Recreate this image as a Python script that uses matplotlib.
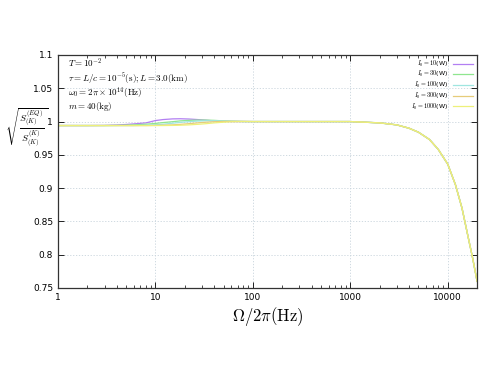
import matplotlib
matplotlib.use("Agg")
import matplotlib.pyplot as plt
from matplotlib.ticker import LogLocator, NullFormatter, FixedLocator

plt.rcParams['mathtext.fontset'] = 'cm'

# frequency grid (Hz): low part differs per power, high part is shared
f_low = [1, 2, 3, 4, 5, 6, 8, 10, 12, 15, 18, 22, 27, 33, 40, 50, 60, 80, 100]
f_high = [200, 500, 1000, 2000, 3000, 4000, 5000, 6500, 8000, 10000,
          12000, 14000, 16000, 18000, 20000]
r_high = [1.0, 1.0, 1.0, 0.998, 0.995, 0.99, 0.984, 0.973, 0.958, 0.936,
          0.905, 0.87, 0.83, 0.795, 0.76]

r_10W = [0.994, 0.994, 0.9942, 0.9948, 0.9956, 0.9965, 0.998, 1.0015, 1.003,
         1.004, 1.0042, 1.0038, 1.003, 1.002, 1.001, 1.0003, 1.0, 1.0, 1.0]
r_30W = [0.994, 0.994, 0.994, 0.9942, 0.9945, 0.995, 0.996, 0.9972, 0.9985,
         0.9998, 1.001, 1.0018, 1.0022, 1.0022, 1.0018, 1.001, 1.0005, 1.0, 1.0]
r_100W = [0.994, 0.994, 0.994, 0.994, 0.994, 0.994, 0.9945, 0.9952, 0.996,
          0.9975, 0.9988, 0.9998, 1.0007, 1.0012, 1.0013, 1.001, 1.0006, 1.0002, 1.0]
r_300W = [0.994, 0.994, 0.994, 0.994, 0.994, 0.994, 0.994, 0.9942, 0.9945,
          0.995, 0.9958, 0.9968, 0.998, 0.999, 0.9997, 1.0002, 1.0004, 1.0003, 1.0]
r_1000W = [0.994, 0.994, 0.994, 0.994, 0.994, 0.994, 0.994, 0.994, 0.994,
           0.9942, 0.9945, 0.995, 0.9958, 0.9968, 0.998, 0.999, 0.9996, 1.0, 1.0]

labels = [r'$I_0=10$(W)', r'$I_0=30$(W)', r'$I_0=100$(W)', r'$I_0=300$(W)', r'$I_0=1000$(W)']
colors = ['#b27ff2', '#8fe68f', '#9fe6e0', '#e6cc7a', '#eef07a']

fig = plt.figure(figsize=(4.98, 3.74), dpi=100)
ax = fig.add_axes([0.1165, 0.230, 0.8415, 0.623])

for r, lab, c in zip([r_10W, r_30W, r_100W, r_300W, r_1000W], labels, colors):
    ax.plot(f_low + f_high, r + r_high, color=c, lw=0.9, label=lab)

ax.set_xscale('log')
ax.set_xlim(1, 20000)
ax.set_ylim(0.75, 1.1)
ax.xaxis.set_major_locator(FixedLocator([1, 10, 100, 1000, 10000]))
ax.set_xticklabels(['1', '10', '100', '1000', '10000'])
ax.xaxis.set_minor_locator(LogLocator(base=10, subs=range(2, 10)))
ax.xaxis.set_minor_formatter(NullFormatter())
ax.set_yticks([0.75, 0.8, 0.85, 0.9, 0.95, 1.0, 1.05, 1.1])
ax.set_yticklabels(['0.75', '0.8', '0.85', '0.9', '0.95', '1', '1.05', '1.1'])
ax.tick_params(which='both', direction='in', top=True, right=True, labelsize=6.5)
ax.tick_params(which='major', length=4, width=0.6)
ax.tick_params(which='minor', length=2, width=0.5)
ax.grid(True, which='major', color='#c8d4dc', ls=(0, (1.5, 2)), lw=0.6)
for s in ax.spines.values():
    s.set_linewidth(0.9)
    s.set_color('#333333')

ax.set_xlabel(r'$\Omega/2\pi(\mathrm{Hz})$', fontsize=12, labelpad=2)
fig.text(0.01, 0.657, r'$\sqrt{\frac{S^{(EQ)}_{(K)}}{S^{(K)}_{(K)}}}$', fontsize=10,
         va='center', ha='left')

texts = [r'$T=10^{-2}$',
         r'$\tau=L/c=10^{-5}(\mathrm{s});L=3.0(\mathrm{km})$',
         r'$\omega_0=2\pi\times10^{14}(\mathrm{Hz})$',
         r'$m=40(\mathrm{kg})$']
ypos = [0.963, 0.899, 0.836, 0.778]
for t, y in zip(texts, ypos):
    ax.text(0.025, y, t, transform=ax.transAxes, fontsize=6.5, va='center')

ax.legend(loc='upper right', fontsize=4.5, frameon=False, markerfirst=False,
          handlelength=3.2, labelspacing=0.1, borderaxespad=0.2)

fig.savefig('out.png', dpi=100)
